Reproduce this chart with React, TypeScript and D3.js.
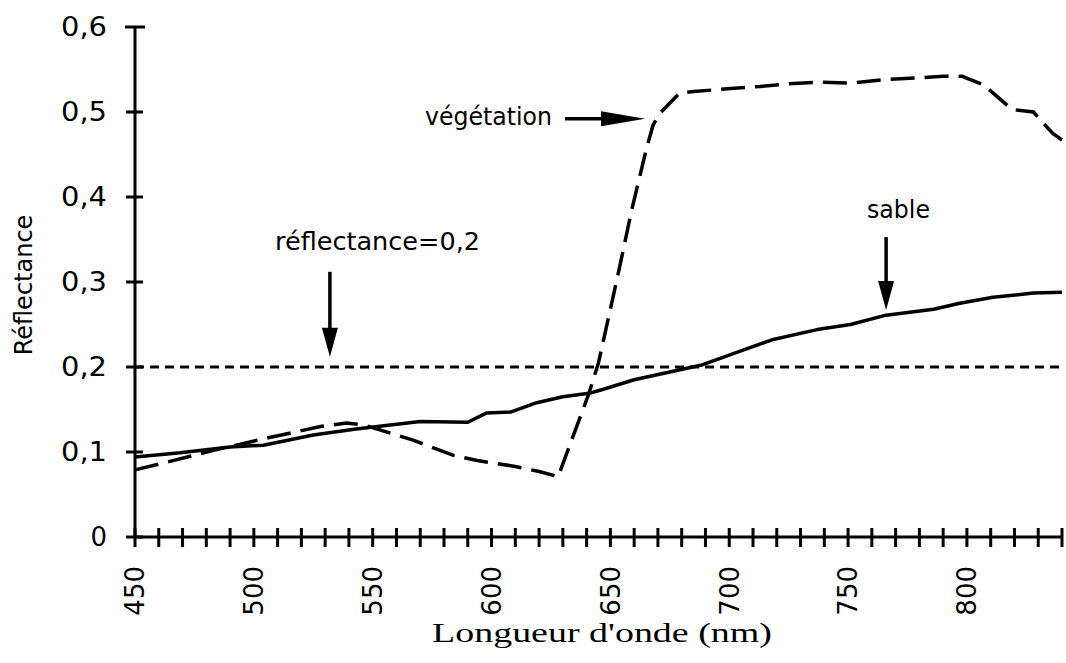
import React from 'react';
import * as d3 from 'd3';

// wavelengths (nm) and reflectance
const vegNm = [450, 462, 483, 505, 528, 539, 546, 567, 584, 594, 610, 620, 628, 641, 645, 653, 659, 665, 668, 671, 679, 685, 702, 713, 724, 738, 751, 765, 779, 790, 798, 807, 819, 828, 836, 840];
const vegRefl = [0.079, 0.087, 0.102, 0.116, 0.13, 0.134, 0.132, 0.114, 0.096, 0.09, 0.083, 0.077, 0.071, 0.169, 0.205, 0.306, 0.385, 0.455, 0.485, 0.499, 0.522, 0.524, 0.528, 0.53, 0.533, 0.535, 0.534, 0.538, 0.54, 0.542, 0.542, 0.532, 0.503, 0.5, 0.475, 0.467];

const sandNm = [450, 469, 490, 504, 525, 543, 570, 590, 598, 608, 619, 630, 641, 646, 660, 688, 702, 718, 737, 751, 766, 786, 797, 811, 828, 840];
const sandRefl = [0.094, 0.099, 0.106, 0.108, 0.12, 0.127, 0.136, 0.135, 0.146, 0.147, 0.158, 0.165, 0.169, 0.173, 0.185, 0.202, 0.216, 0.232, 0.244, 0.25, 0.261, 0.268, 0.275, 0.282, 0.287, 0.288];

const threshold = 0.2;

const xLabels = [450, 500, 550, 600, 650, 700, 750, 800];
const yLabels = [0, 0.1, 0.2, 0.3, 0.4, 0.5, 0.6];

const W = 1066;
const H = 663;
const sans = "'DejaVu Sans', sans-serif";

const App: React.FC = () => {
  const x = d3.scaleLinear().domain([450, 840]).range([135, 1062]);
  const y = d3.scaleLinear().domain([0, 0.6]).range([537, 27]);

  const minorTicks = d3.range(450, 841, 10);

  const line = d3.line<[number, number]>()
    .x(d => x(d[0]))
    .y(d => y(d[1]))
    .curve(d3.curveLinear);

  const vegPts = vegNm.map((n, i) => [n, vegRefl[i]] as [number, number]);
  const sandPts = sandNm.map((n, i) => [n, sandRefl[i]] as [number, number]);

  const fmt = (v: number) => (v === 0 ? '0' : v.toFixed(1).replace('.', ','));

  // downward arrow with tip at (tx, ty)
  const downArrow = (tx: number, ty: number, len: number) => (
    <g>
      <line x1={tx} y1={ty - len} x2={tx} y2={ty - 25} stroke="#000" strokeWidth={3.5} />
      <path d={`M${tx - 8},${ty - 29} L${tx + 8},${ty - 29} L${tx},${ty} Z`} fill="#000" />
    </g>
  );

  return (
    <svg width={W} height={H} style={{ position: 'absolute', left: 0, top: 0, background: '#fff' }}>
      {/* threshold line */}
      <line x1={x(450)} x2={x(840)} y1={y(threshold)} y2={y(threshold)}
        stroke="#000" strokeWidth={3} strokeDasharray="9 6" />

      {/* sand */}
      <path d={line(sandPts) || ''} fill="none" stroke="#000" strokeWidth={3.5} strokeLinejoin="round" />

      {/* vegetation */}
      <path d={line(vegPts) || ''} fill="none" stroke="#000" strokeWidth={3.5} strokeDasharray="24 10" />

      {/* y axis */}
      <line x1={x(450)} x2={x(450)} y1={y(0)} y2={y(0.6)} stroke="#000" strokeWidth={3} />
      {yLabels.map(v => (
        <g key={v}>
          <line x1={x(450) - (v === 0.6 ? 10 : 9)} x2={x(450) + (v === 0.6 ? 10 : 8)} y1={y(v)} y2={y(v)}
            stroke="#000" strokeWidth={3} />
          {v === 0 ? (
            <text x={107} y={y(v)} dy="0.36em" textAnchor="end" fontFamily={sans} fontSize={26}>{fmt(v)}</text>
          ) : (
            <text x={61} y={y(v)} dy="0.36em" fontFamily={sans} fontSize={26}
              textLength={46} lengthAdjust="spacingAndGlyphs">{fmt(v)}</text>
          )}
        </g>
      ))}

      {/* x axis */}
      <line x1={x(450)} x2={x(840)} y1={y(0)} y2={y(0)} stroke="#000" strokeWidth={3} />
      {minorTicks.map(t => (
        <line key={t} x1={x(t)} x2={x(t)} y1={y(0) - 9} y2={y(0) + 10} stroke="#000" strokeWidth={3} />
      ))}
      {xLabels.map(t => (
        <text key={t} transform={`translate(${x(t)},566) rotate(-90)`} dy="0.36em" textAnchor="end"
          fontFamily={sans} fontSize={26}>{t}</text>
      ))}

      {/* axis titles */}
      <text transform="translate(32,285) rotate(-90)" textAnchor="middle" fontFamily={sans} fontSize={24}>Réflectance</text>
      <text x={432} y={642} fontFamily="'Liberation Serif', 'Times New Roman', serif" fontSize={28}
        textLength={340} lengthAdjust="spacingAndGlyphs">Longueur d'onde (nm)</text>

      {/* annotations */}
      <text x={275} y={250} fontFamily={sans} fontSize={25} textLength={205} lengthAdjust="spacingAndGlyphs">réflectance=0,2</text>
      {downArrow(x(532), y(0.212), 85)}

      <text x={867} y={218} fontFamily={sans} fontSize={25} textLength={63} lengthAdjust="spacingAndGlyphs">sable</text>
      {downArrow(x(766), y(0.267), 73)}

      <text x={425} y={125} fontFamily={sans} fontSize={25} textLength={127} lengthAdjust="spacingAndGlyphs">végétation</text>
      <g>
        <line x1={565} x2={x(664.6) - 40} y1={y(0.492)} y2={y(0.492)} stroke="#000" strokeWidth={3.5} />
        <path d={`M${x(664.6) - 44},${y(0.492) - 7.5} L${x(664.6) - 44},${y(0.492) + 7.5} L${x(664.6)},${y(0.492)} Z`} fill="#000" />
      </g>
    </svg>
  );
};

export default App;
